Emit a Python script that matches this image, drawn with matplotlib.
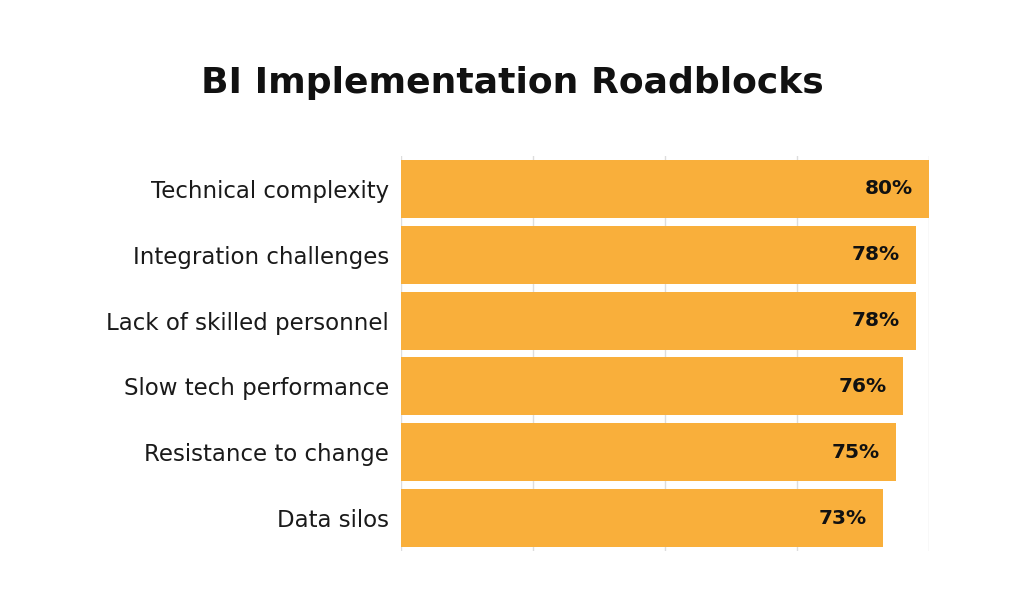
import matplotlib
matplotlib.use("Agg")
import matplotlib.pyplot as plt

# survey values, top to bottom
categories = ["Technical complexity", "Integration challenges", "Lack of skilled personnel",
              "Slow tech performance", "Resistance to change", "Data silos"]
values = [80, 78, 78, 76, 75, 73]
title = "BI Implementation Roadblocks"

bar_color = "#F9AF3B"
grid_color = "#DDDDDD"

plt.rcParams['font.family'] = ['DejaVu Sans']

fig = plt.figure(figsize=(10.24, 5.97), dpi=100)
ax = fig.add_axes([401/1024, 1-551/597, (929-401)/1024, 395/597])

ypos = list(range(len(categories)))
ax.barh(ypos, values, height=0.88, color=bar_color, zorder=2)

for y, v in zip(ypos, values):
    ax.text(v - 2.4, y, "{}%".format(v), ha="right", va="center",
            fontsize=14.5, fontweight="bold", color="#111111", zorder=3)

ax.set_xlim(0, 80)
ax.set_ylim(len(categories) - 0.5, -0.5)
ax.set_xticks([0, 20, 40, 60, 80])
ax.xaxis.grid(True, color=grid_color, linewidth=1, zorder=0)
ax.set_yticks(ypos)
ax.set_yticklabels(categories, fontsize=16.5, color="#1a1a1a")
ax.tick_params(axis="y", length=0, pad=8.5)
ax.tick_params(axis="x", length=0, labelbottom=False)
for s in ax.spines.values():
    s.set_visible(False)

fig.text(512/1024, 1-83/597, title, ha="center", va="center",
         fontsize=26, fontweight="bold", color="#111111")

fig.savefig("out.png", dpi=100, facecolor="white")
